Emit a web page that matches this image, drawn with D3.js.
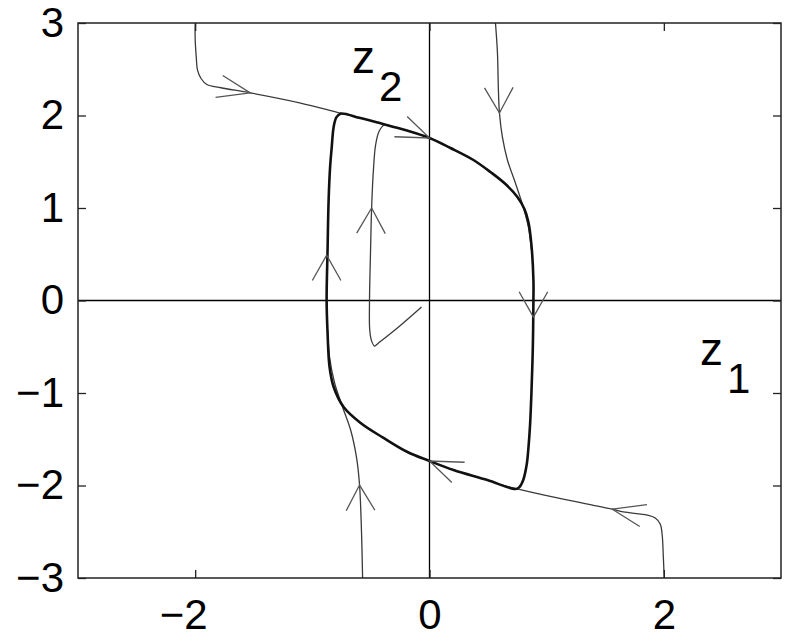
<!DOCTYPE html>
<html>
<head>
<meta charset="utf-8">
<script src="https://cdn.jsdelivr.net/npm/d3@7"></script>
<style>
  body { margin: 0; background: #fff; }
  svg { display: block; }
  text { font-family: "Liberation Sans", Arial, Helvetica, sans-serif; }
</style>
</head>
<body>
<svg id="chart" width="791" height="642"></svg>
<script>
// Phase plane (z1, z2): limit cycle and nearby trajectories.
const z1Ticks = [-2, 0, 2];
const z2Ticks = [-3, -2, -1, 0, 1, 2, 3];

// Closed limit cycle, traversed clockwise from its upper-left corner.
const limitCycle = [
  [-0.759, 2.020], [-0.600, 1.975], [-0.418, 1.915], [-0.200, 1.840],
  [0.000, 1.757], [0.179, 1.649], [0.375, 1.519], [0.520, 1.389],
  [0.648, 1.259], [0.750, 1.119], [0.810, 0.989], [0.844, 0.849],
  [0.870, 0.600], [0.887, 0.222], [0.887, 0.005], [0.882, -0.500],
  [0.870, -1.000], [0.858, -1.350], [0.844, -1.600], [0.830, -1.770],
  [0.800, -1.940], [0.765, -2.020], [0.733, -2.038], [0.494, -1.941],
  [0.205, -1.832], [0.000, -1.735], [-0.188, -1.638], [-0.392, -1.486],
  [-0.588, -1.324], [-0.733, -1.151], [-0.818, -0.935], [-0.853, -0.719],
  [-0.870, -0.351], [-0.878, 0.005], [-0.870, 0.546], [-0.861, 1.086],
  [-0.848, 1.450], [-0.835, 1.650], [-0.818, 1.876], [-0.795, 1.980]
];

// Trajectories converging onto the cycle.
const trajNW = [
  [-2.000, 3.000], [-2.000, 2.830], [-1.990, 2.620], [-1.980, 2.490],
  [-1.950, 2.400], [-1.900, 2.335], [-1.780, 2.300], [-1.530, 2.245],
  [-1.100, 2.135], [-0.759, 2.025], [-0.600, 1.978]
];
const trajInner = [
  [-0.068, -0.070], [-0.264, -0.286], [-0.435, -0.459], [-0.469, -0.492],
  [-0.494, -0.438], [-0.510, -0.319], [-0.512, 0.005], [-0.503, 0.546],
  [-0.494, 1.000], [-0.477, 1.443], [-0.460, 1.681], [-0.430, 1.830],
  [-0.384, 1.900], [-0.300, 1.872]
];
const trajNE = [
  [0.563, 3.000], [0.580, 2.676], [0.588, 2.276], [0.597, 2.027],
  [0.622, 1.768], [0.665, 1.519], [0.733, 1.270], [0.800, 1.011],
  [0.844, 0.795], [0.870, 0.546]
];
const trajSW = [
  [-0.571, -3.000], [-0.580, -2.514], [-0.597, -1.995], [-0.622, -1.703],
  [-0.673, -1.400], [-0.742, -1.151], [-0.810, -0.892], [-0.853, -0.611],
  [-0.870, -0.319]
];
const trajSE = [
  [2.003, -3.000], [1.995, -2.751], [1.986, -2.535], [1.969, -2.416],
  [1.927, -2.351], [1.858, -2.319], [1.654, -2.286], [1.560, -2.256],
  [1.091, -2.135], [0.776, -2.045], [0.605, -1.990]
];

// Arrowheads: tip position and heading (phase-plane units).
const arrowTips = [
  [-1.530, 2.245], [0.000, 1.757], [-0.494, 1.000], [-0.878, 0.490],
  [0.597, 2.027], [0.887, -0.180], [-0.597, -1.995], [0.000, -1.735],
  [1.560, -2.256]
];
const arrowHeadings = [
  [1, -0.26], [1, -0.5], [0.02, 1], [0, 1],
  [0.02, -1], [0, -1], [-0.03, 1], [-1, 0.5],
  [-1, 0.26]
];

const svg = d3.select("#chart");
const x = d3.scaleLinear().domain([-3, 3]).range([78, 781]);
const y = d3.scaleLinear().domain([-3, 3]).range([578, 23]);

const smooth = d3.line().x(d => x(d[0])).y(d => y(d[1])).curve(d3.curveCatmullRom.alpha(0.5));
const closedSmooth = d3.line().x(d => x(d[0])).y(d => y(d[1])).curve(d3.curveCatmullRomClosed.alpha(0.5));
const straight = d3.line().x(d => x(d[0])).y(d => y(d[1]));

// Coordinate axes through the origin
svg.append("line").attr("x1", x(0)).attr("x2", x(0)).attr("y1", y(3)).attr("y2", y(-3))
  .attr("stroke", "#000").attr("stroke-width", 1.3);
svg.append("line").attr("x1", x(-3)).attr("x2", x(3)).attr("y1", y(0)).attr("y2", y(0))
  .attr("stroke", "#000").attr("stroke-width", 1.3);

// Trajectories
[trajNW, trajInner, trajNE, trajSW, trajSE].forEach(t => {
  svg.append("path").attr("d", smooth(t)).attr("fill", "none")
    .attr("stroke", "#3a3a3a").attr("stroke-width", 1.3);
});

// Limit cycle
svg.append("path").attr("d", closedSmooth(limitCycle)).attr("fill", "none")
  .attr("stroke", "#111").attr("stroke-width", 2.6).attr("stroke-linejoin", "round");

// Open arrowheads, built in phase-plane units
const barbLen = 0.3, barbAng = 24 * Math.PI / 180;
arrowTips.forEach((tip, i) => {
  const h = arrowHeadings[i];
  const n = Math.hypot(h[0], h[1]);
  const ux = -h[0] / n, uy = -h[1] / n;
  const rot = a => [tip[0] + barbLen * (ux * Math.cos(a) - uy * Math.sin(a)),
                    tip[1] + barbLen * (ux * Math.sin(a) + uy * Math.cos(a))];
  svg.append("path").attr("d", straight([rot(barbAng), tip, rot(-barbAng)]))
    .attr("fill", "none").attr("stroke", "#555").attr("stroke-width", 1.3);
});

// Frame
svg.append("rect").attr("x", x(-3)).attr("y", y(3))
  .attr("width", x(3) - x(-3)).attr("height", y(-3) - y(3))
  .attr("fill", "none").attr("stroke", "#222").attr("stroke-width", 1.5);

// Axes with inward ticks
const fmt = d3.format("d");
function styleAxis(g) {
  g.select(".domain").remove();
  g.selectAll(".tick line").attr("stroke", "#222").attr("stroke-width", 1.3);
  g.selectAll(".tick text").attr("fill", "#000").style("font-size", "42px")
    .style("font-family", '"Liberation Sans", Arial, sans-serif');
}
svg.append("g").attr("transform", `translate(${x(-3)},0)`)
  .call(d3.axisLeft(y).tickValues(z2Ticks).tickFormat(fmt).tickSizeInner(-8).tickSizeOuter(0).tickPadding(14))
  .call(styleAxis);
svg.append("g").attr("transform", `translate(${x(3)},0)`)
  .call(d3.axisRight(y).tickValues(z2Ticks).tickFormat("").tickSizeInner(-8).tickSizeOuter(0))
  .call(styleAxis);
svg.append("g").attr("transform", `translate(0,${y(-3)})`)
  .call(d3.axisBottom(x).tickValues(z1Ticks).tickFormat(fmt).tickSizeInner(-8).tickSizeOuter(0).tickPadding(21))
  .call(styleAxis)
  // the minus sign hangs to the left so the digit stays centred on its tick
  .call(g => g.selectAll(".tick text").attr("dx", d => d < 0 ? -12 : 0));
svg.append("g").attr("transform", `translate(0,${y(3)})`)
  .call(d3.axisTop(x).tickValues(z1Ticks).tickFormat("").tickSizeInner(-8).tickSizeOuter(0))
  .call(styleAxis);

// Axis names
function axisName(px, py, sub) {
  const t = svg.append("text").attr("x", px).attr("y", py).attr("fill", "#000");
  t.append("tspan").style("font-size", "46px").text("z");
  t.append("tspan").attr("dx", 4).attr("dy", 28).style("font-size", "42px").text(sub);
}
axisName(352, 73, "2");
axisName(700, 365, "1");
</script>
</body>
</html>
